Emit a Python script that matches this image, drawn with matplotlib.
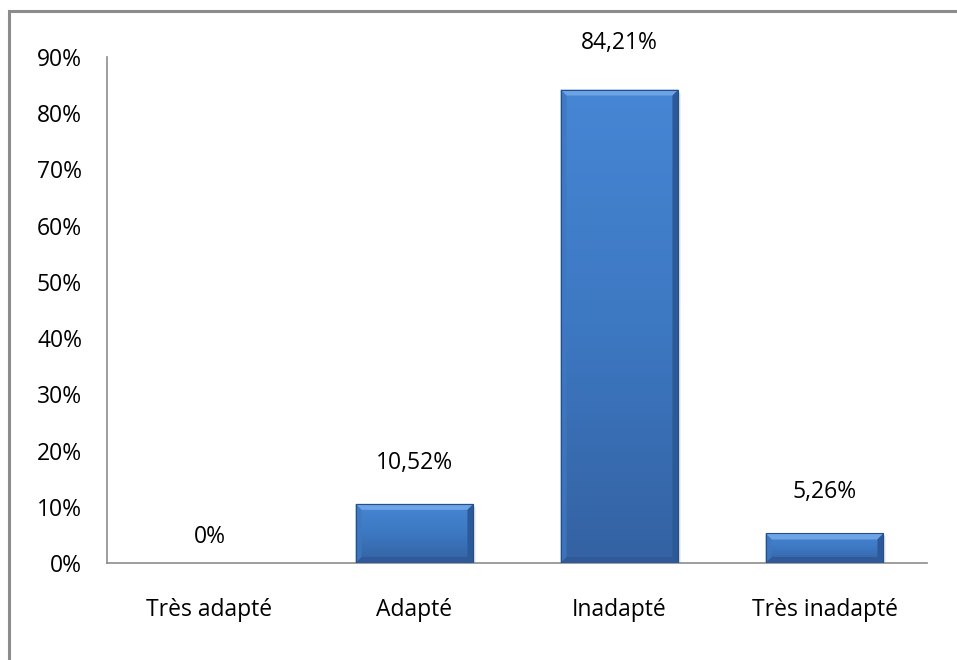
import numpy as np
import matplotlib
matplotlib.use("Agg")
import matplotlib.pyplot as plt
from matplotlib.patches import Polygon, Rectangle
from matplotlib.colors import LinearSegmentedColormap
from matplotlib.ticker import FuncFormatter

categories = ["Très adapté", "Adapté", "Inadapté", "Très inadapté"]
values = [0.0, 10.52, 84.21, 5.26]
labels = ["0%", "10,52%", "84,21%", "5,26%"]

plt.rcParams["font.family"] = ["Open Sans", "DejaVu Sans"]

fig = plt.figure(figsize=(9.57, 6.6), dpi=100)
ax = fig.add_axes([107 / 957, 97 / 660, 820 / 957, 506 / 660])

x = np.arange(len(categories))
bars = ax.bar(x, values, width=0.575, color="#4382d0", edgecolor="none", zorder=2)

ax.set_xlim(-0.5, 3.5)
ax.set_ylim(0, 90)
ax.set_yticks(np.arange(0, 91, 10))
ax.yaxis.set_major_formatter(FuncFormatter(lambda v, p: f"{v:.0f}%"))
ax.set_xticks(x)
ax.set_xticklabels(categories)
ax.tick_params(axis="both", length=0, labelsize=16.5, colors="black")
ax.tick_params(axis="y", pad=18)
ax.tick_params(axis="x", pad=25)
for side in ("top", "right"):
    ax.spines[side].set_visible(False)
for side in ("left", "bottom"):
    ax.spines[side].set_color("#8c8c8c")
    ax.spines[side].set_linewidth(1.2)

# bevel effect on each bar
sx = ax.transData.transform((1, 0))[0] - ax.transData.transform((0, 0))[0]
sy = ax.transData.transform((0, 1))[1] - ax.transData.transform((0, 0))[1]
bx, by = 6 / sx, 6 / sy
face = LinearSegmentedColormap.from_list("face", ["#3462a3", "#3d78c2", "#4686d4"])
for b in bars:
    x0, w, h = b.get_x(), b.get_width(), b.get_height()
    if h <= 0:
        continue
    x1 = x0 + w
    byh = min(by, h / 2)
    # soft shadow
    for k, a in ((3, 0.06), (2, 0.08), (1, 0.1)):
        ax.add_patch(Rectangle((x0 + k / sx, -k / sy), w, h, color="#000000",
                               alpha=a, zorder=1, lw=0))
    grad = np.linspace(0, 1, 100).reshape(-1, 1)
    im = ax.imshow(grad, extent=(x0, x1, 0, h), aspect="auto", origin="lower",
                   cmap=face, zorder=2.1)
    im.set_clip_path(b)
    top = Polygon([(x0, h), (x1, h), (x1 - bx, h - byh), (x0 + bx, h - byh)],
                  closed=True, color="#6ea4e6", lw=0, zorder=3)
    bottom = Polygon([(x0, 0), (x1, 0), (x1 - bx, byh), (x0 + bx, byh)],
                     closed=True, color="#30599a", lw=0, zorder=3)
    left = Polygon([(x0, 0), (x0 + bx, byh), (x0 + bx, h - byh), (x0, h)],
                   closed=True, color="#3f78c0", alpha=0.8, lw=0, zorder=3)
    right = Polygon([(x1, 0), (x1 - bx, byh), (x1 - bx, h - byh), (x1, h)],
                    closed=True, color="#2c5a98", lw=0, zorder=3)
    for p in (top, bottom, left, right):
        ax.add_patch(p)
    ax.add_patch(Rectangle((x0, 0), w, h, fill=False, ec="#244f88", lw=0.8, zorder=3.5))

offsets = [26, 41, 47, 41]
for xi, v, lab, off in zip(x, values, labels, offsets):
    ax.annotate(lab, (xi, v), xytext=(0, off * 0.72), textcoords="offset points",
                ha="center", va="center", fontsize=16.5, annotation_clip=False)

# outer chart frame
fig.add_artist(Rectangle((9 / 957, -0.1), 1.2, (660 - 11) / 660 + 0.1,
                         transform=fig.transFigure, fill=False,
                         ec="#8c8c8c", lw=2.2))

fig.savefig("out.png", dpi=100)
